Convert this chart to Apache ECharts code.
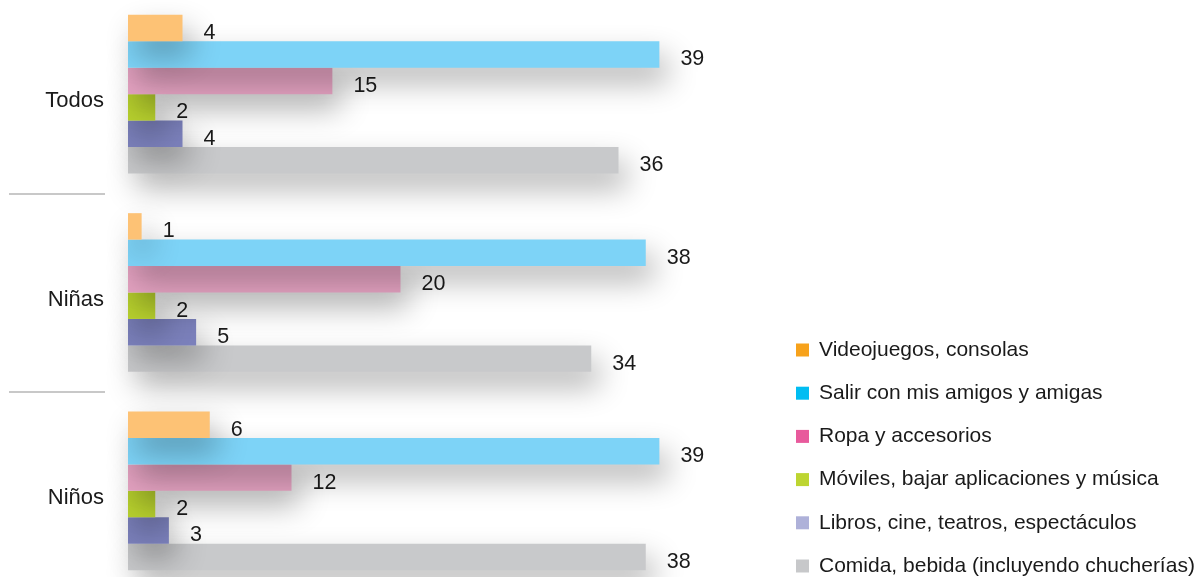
<!DOCTYPE html>
<html>
<head>
<meta charset="utf-8">
<script src="https://cdn.jsdelivr.net/npm/echarts@6/dist/echarts.min.js"></script>
<style>
    html, body { margin: 0; padding: 0; background: #fff; }
    #main { width: 1203px; height: 577px; }
</style>
</head>
<body>
<div id="main"></div>
<script type="text/javascript">
    var categories = ['Todos', 'Niñas', 'Niños'];
    var seriesNames = [
        'Videojuegos, consolas',
        'Salir con mis amigos y amigas',
        'Ropa y accesorios',
        'Móviles, bajar aplicaciones y música',
        'Libros, cine, teatros, espectáculos',
        'Comida, bebida (incluyendo chucherías)'
    ];
    var videojuegos = [4, 1, 6];
    var salir = [39, 38, 39];
    var ropa = [15, 20, 12];
    var moviles = [2, 2, 2];
    var libros = [4, 5, 3];
    var comida = [36, 34, 38];

    // bar fill and legend swatch colours differ in the original
    var barColors = ['#fdc275', '#7dd3f7', '#e4a2c1', '#b8d12e', '#7b80bb', '#c8c9cb'];
    var legendColors = ['#f7a21b', '#00bdf2', '#e85a9c', '#bdd531', '#aeb1d9', '#c7c8ca'];

    var font = '"Liberation Sans", Arial, sans-serif';
    var values = [videojuegos, salir, ropa, moviles, libros, comida];

    var series = [];
    for (var i = 0; i < values.length; i++) {
        series.push({
            name: seriesNames[i],
            type: 'bar',
            data: values[i],
            z: 10 - i,   // upper bar casts its shadow on the one below
            barGap: '0%',
            barCategoryGap: '20%',
            itemStyle: {
                color: barColors[i],
                shadowColor: 'rgba(0,0,0,0.3)',
                shadowBlur: 30,
                shadowOffsetX: 8,
                shadowOffsetY: 15
            },
            label: {
                show: true,
                position: 'right',
                distance: 21,
                offset: [0, 5],
                color: '#1a1a1a',
                fontSize: 21.5,
                fontFamily: font
            }
        });
    }

    var myChart = echarts.init(document.getElementById('main'));
    var option = {
        backgroundColor: '#fff',
        animation: false,
        grid: [{
            left: 128,
            top: -5,
            width: 545,
            height: 595,
            containLabel: false,
            outerBoundsMode: 'none'
        }, {
            // only used for the grey divider strokes left of the labels
            left: 105,
            top: -5,
            width: 1,
            height: 595,
            containLabel: false,
            outerBoundsMode: 'none'
        }],
        legend: {
            orient: 'vertical',
            left: 796,
            top: 338,
            padding: 0,
            height: 300,
            icon: 'rect',
            itemWidth: 13,
            itemHeight: 13,
            itemGap: 19.2,
            textStyle: {
                color: '#1a1a1a',
                fontSize: 21,
                lineHeight: 24,
                fontFamily: font,
                padding: [0, 0, 0, 5]
            },
            data: seriesNames.map(function (n, i) {
                return { name: n, itemStyle: { color: legendColors[i] } };
            })
        },
        xAxis: [{
            type: 'value',
            min: 0,
            max: 40,
            show: false
        }, {
            type: 'value',
            gridIndex: 1,
            show: false
        }],
        yAxis: [{
            type: 'category',
            data: categories,
            inverse: true,
            axisLine: { show: false },
            axisTick: { show: false },
            axisLabel: {
                margin: 24,
                formatter: '{a|{value}}',
                rich: {
                    a: {
                        color: '#1a1a1a',
                        fontSize: 22,
                        fontFamily: font,
                        padding: [14, 0, 0, 0]
                    }
                }
            },
            splitLine: { show: false }
        }, {
            type: 'category',
            gridIndex: 1,
            data: categories,
            inverse: true,
            axisLine: { show: false },
            axisLabel: { show: false },
            axisTick: {
                show: true,
                length: 96,
                lineStyle: { color: '#c8c8c8', width: 2 }
            },
            splitLine: { show: false }
        }],
        series: series
    };
    myChart.setOption(option);
</script>
</body>
</html>
